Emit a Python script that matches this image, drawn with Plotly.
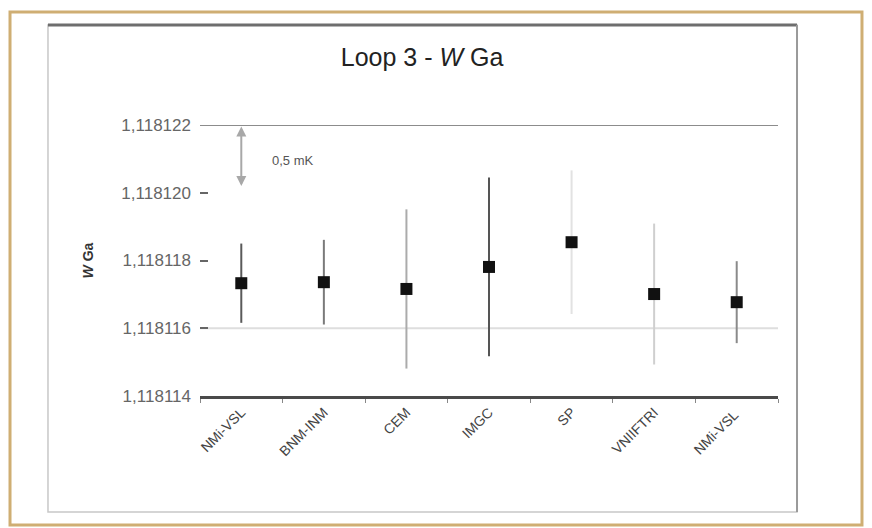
import plotly.graph_objects as go

# ---- data ----
labs = ["NMi-VSL", "BNM-INM", "CEM", "IMGC", "SP", "VNIIFTRI", "NMi-VSL "]
vals = [1.11811733, 1.11811736, 1.11811716, 1.11811781, 1.11811854, 1.11811701, 1.11811677]
errs = [0.00000117, 0.00000125, 0.00000235, 0.00000264, 0.00000212, 0.00000208, 0.00000121]
bar_cols = ["#5a5a5a", "#7a7a7a", "#ababab", "#555555", "#e2e2e2", "#cfcfcf", "#8a8a8a"]
yticks = [1.118114, 1.118116, 1.118118, 1.118120, 1.118122]
grid_vals = [1.118122, 1.118116]
grid_cols = ["#8c8c8c", "#dedede"]
arrow_top, arrow_bot = 1.118122, 1.1181202
note_y = 1.11812096

fig = go.Figure()
for lab, v, e, c in zip(labs, vals, errs, bar_cols):
    fig.add_trace(go.Scatter(
        x=[lab], y=[v], mode="markers",
        marker=dict(symbol="square", size=12, color="#111111"),
        error_y=dict(type="data", array=[e], color=c, thickness=2, width=0),
        showlegend=False, cliponaxis=False))

for gv, gc in zip(grid_vals, grid_cols):
    fig.add_shape(type="line", xref="paper", yref="y", x0=0, x1=1, y0=gv, y1=gv,
                  line=dict(color=gc, width=2), layer="below")

# outer tan frame and inner chart frame
fig.add_shape(type="rect", xref="paper", yref="paper", x0=-0.3287, x1=1.1453, y0=-0.476, y1=1.417,
              line=dict(color="#cfae73", width=3))
fig.add_shape(type="rect", xref="paper", yref="paper", x0=-0.263, x1=1.0329, y0=-0.428, y1=1.369,
              line=dict(color="#c8c8c8", width=1.5))
fig.add_shape(type="line", xref="paper", yref="paper", x0=-0.263, x1=1.0329, y0=1.369, y1=1.369,
              line=dict(color="#6e6e6e", width=3))
fig.add_shape(type="line", xref="paper", yref="paper", x0=1.0329, x1=1.0329, y0=-0.428, y1=1.369,
              line=dict(color="#9a9a9a", width=2))

# double arrow 0.5 mK
fig.add_annotation(x=labs[0], y=arrow_bot, ax=labs[0], ay=arrow_top, xref="x", yref="y",
                   axref="x", ayref="y", text="", showarrow=True, arrowhead=2, arrowside="end+start",
                   arrowsize=1, arrowwidth=2, arrowcolor="#a8a8a8")
fig.add_annotation(x=0.161, y=note_y, xref="paper", yref="y", xanchor="center", text="0,5 mK",
                   showarrow=False, font=dict(size=13, color="#555555", family="Liberation Sans"))

fig.update_layout(
    width=872, height=528,
    margin=dict(l=200, r=94, t=125, b=132),
    paper_bgcolor="white", plot_bgcolor="white",
    separators=",.",
    font=dict(family="Liberation Sans, Arial, sans-serif", color="#444444"),
    title=dict(text="Loop 3 - <i>W</i> Ga", x=0.484, xanchor="center", y=0.892, yanchor="middle",
               font=dict(size=25, color="#222222", family="Liberation Sans")),
    xaxis=dict(type="category", categoryorder="array", categoryarray=labs,
               range=[-0.5, len(labs) - 0.5],
               showline=True, linecolor="#4a4a4a", linewidth=2.5,
               ticks="outside", ticklen=4, tickcolor="#888888", tickson="boundaries",
               tickangle=-45, tickfont=dict(size=14, color="#444444"),
               showgrid=False, zeroline=False),
    yaxis=dict(range=[1.118114, 1.118122], tickvals=yticks, tickformat=".6f",
               showline=False, showgrid=False, zeroline=False,
               ticks="inside", ticklen=8, tickcolor="#666666", tickwidth=2,
               ticklabelstandoff=8,
               tickfont=dict(size=17, color="#666666"),
               title=dict(text="<b><i>W</i> Ga</b>", font=dict(size=14, color="#333333"), standoff=24)),
)

fig.write_html("out.html", post_script="document.body.style.margin='0';",
               config={"displayModeBar": False})
